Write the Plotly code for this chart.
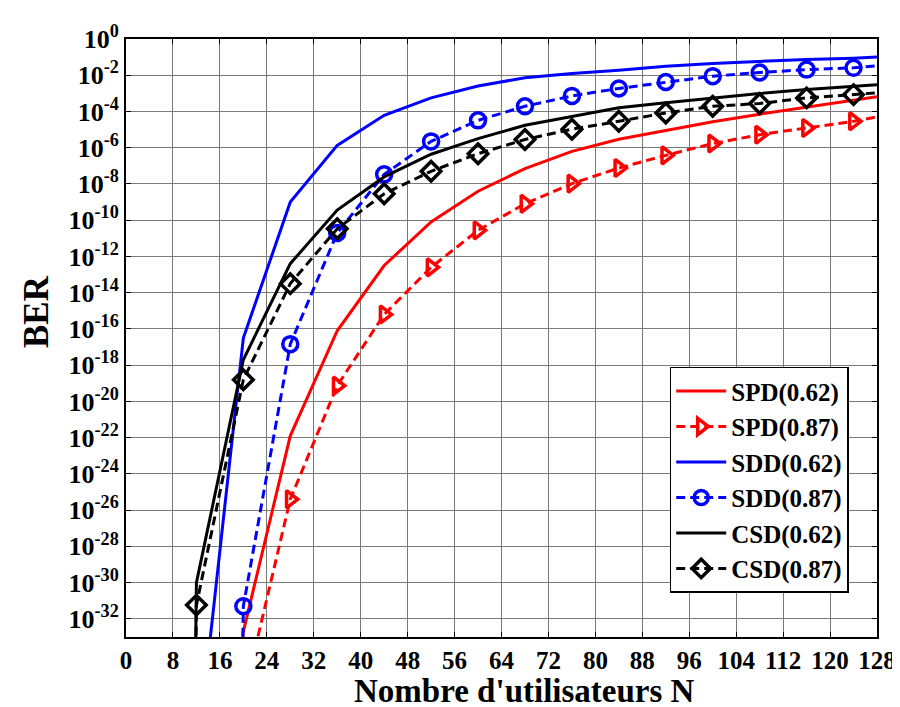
import plotly.graph_objects as go

N = [4, 12, 20, 28, 36, 44, 52, 60, 68, 76, 84, 92, 100, 108, 116, 124, 128]

# log10(BER)
spd_062 = [-100, -60, -32.7, -21.9, -16.1, -12.5, -10.1, -8.4, -7.15, -6.2, -5.53, -5.04, -4.57, -4.15, -3.75, -3.38, -3.19]
spd_087 = [-120, -70, -36.4, -25.4, -19.13, -15.2, -12.6, -10.56, -9.09, -7.98, -7.12, -6.42, -5.77, -5.28, -4.91, -4.54, -4.30]
sdd_062 = [-80, -40, -16.5, -9.0, -5.87, -4.21, -3.25, -2.59, -2.14, -1.9, -1.72, -1.5, -1.35, -1.23, -1.13, -1.06, -1.0]
sdd_087 = [-250, -200, -31.3, -16.84, -10.7, -7.47, -5.65, -4.49, -3.71, -3.14, -2.73, -2.37, -2.05, -1.85, -1.69, -1.59, -1.48]
csd_062 = [-250, -30.0, -17.7, -12.4, -9.44, -7.61, -6.36, -5.50, -4.76, -4.30, -3.80, -3.52, -3.25, -3.01, -2.79, -2.61, -2.53]
csd_087 = [-250, -31.24, -18.8, -13.5, -10.47, -8.54, -7.30, -6.33, -5.55, -4.98, -4.54, -4.08, -3.71, -3.56, -3.25, -3.07, -2.97]

series_names = ["SPD(0.62)", "SPD(0.87)", "SDD(0.62)", "SDD(0.87)", "CSD(0.62)", "CSD(0.87)"]

x_ticks = list(range(0, 129, 8))
y_tick_exps = list(range(0, -33, -2))
y_tick_labels = ["10<sup>%d</sup>" % e for e in y_tick_exps]

x_title = "Nombre d'utilisateurs N"
y_title = "BER"

FONT = "Liberation Serif"

specs = [
    (spd_062, "#ff0000", "solid", None),
    (spd_087, "#ff0000", "9px,5px", "triangle-right-open"),
    (sdd_062, "#0000ff", "solid", None),
    (sdd_087, "#0000ff", "9px,5px", "circle-open"),
    (csd_062, "#000000", "solid", None),
    (csd_087, "#000000", "9px,5px", "diamond-open"),
]

fig = go.Figure()
for (vals, col, dash, sym), name in zip(specs, series_names):
    y = [10.0 ** v for v in vals]
    if sym is None:
        fig.add_trace(go.Scatter(x=N, y=y, mode="lines", name=name, legendgroup=name,
                                 line=dict(color=col, width=3, dash=dash)))
    else:
        sizes = [15] * (len(N) - 1) + [0]
        fig.add_trace(go.Scatter(x=N, y=y, mode="lines+markers", name=name, legendgroup=name,
                                 line=dict(color=col, width=3, dash=dash),
                                 marker=dict(symbol=sym, size=sizes, color=col, opacity=1,
                                             line=dict(color=col, width=3.5))))

fig.update_layout(
    width=900, height=707,
    margin=dict(l=118, r=23, t=31, b=78),
    plot_bgcolor="white", paper_bgcolor="white",
    font=dict(family=FONT, size=26, color="black", weight="bold"),
    showlegend=True,
    legend=dict(x=0.724, y=0.452, xanchor="left", yanchor="top",
                bgcolor="white", bordercolor="black", borderwidth=1.5,
                font=dict(family=FONT, size=25, color="black", weight="bold"),
                itemwidth=50, tracegroupgap=0),
    annotations=[
        dict(text=x_title, xref="paper", yref="paper", x=0.531, y=-0.0895,
             xanchor="center", yanchor="middle", showarrow=False,
             font=dict(family=FONT, size=33, weight="bold", color="black")),
        dict(text=y_title, xref="paper", yref="paper", x=-0.1199, y=0.545,
             xanchor="center", yanchor="middle", showarrow=False, textangle=-90,
             font=dict(family=FONT, size=35, weight="bold", color="black")),
    ],
)
fig.update_xaxes(
    range=[0, 128], tickvals=x_ticks, ticktext=[str(v) for v in x_ticks],
    showgrid=True, gridcolor="#7a7a7a", gridwidth=1,
    showline=True, linecolor="black", linewidth=2, mirror="ticks",
    ticks="inside", ticklen=5, tickcolor="black",
    tickfont=dict(family=FONT, size=25, weight="bold"),
    zeroline=False,
)
fig.update_yaxes(
    type="log", range=[-33, 0],
    tickvals=[10.0 ** e for e in y_tick_exps], ticktext=y_tick_labels,
    showgrid=True, gridcolor="#7a7a7a", gridwidth=1,
    showline=True, linecolor="black", linewidth=2, mirror="ticks",
    ticks="inside", ticklen=5, tickcolor="black",
    tickfont=dict(family=FONT, size=26, weight="bold"),
    zeroline=False,
)

fig.write_html("out.html")
